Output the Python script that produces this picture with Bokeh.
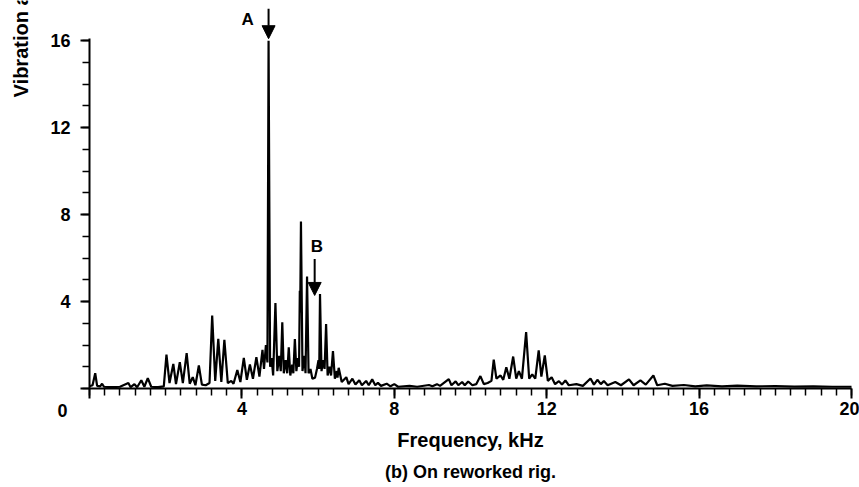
import math
from bokeh.plotting import figure
from bokeh.models import Range1d, Label, Arrow, NormalHead, FixedTicker
from bokeh.embed import file_html
from bokeh.resources import INLINE

# ---- data (frequency in kHz, vibration amplitude) ----
freq_khz = [
    0.00, 0.08, 0.15, 0.20, 0.28, 0.33, 0.38, 0.60, 0.80, 1.02, 1.08, 1.18, 1.25,
    1.36, 1.44, 1.53, 1.62, 1.80, 1.95, 2.02, 2.10, 2.20, 2.27, 2.37, 2.45, 2.55,
    2.63, 2.71, 2.78, 2.87, 2.95, 3.05, 3.15, 3.22, 3.30, 3.38, 3.46, 3.54, 3.63,
    3.72, 3.78, 3.88, 3.96, 4.05, 4.13, 4.21, 4.29, 4.38, 4.46, 4.54, 4.58, 4.63,
    4.67, 4.70, 4.74, 4.78, 4.82, 4.88, 4.93, 4.98, 5.02, 5.06, 5.10, 5.15, 5.19,
    5.23, 5.27, 5.32, 5.35, 5.39, 5.43, 5.47, 5.50, 5.52, 5.53, 5.55, 5.59, 5.64,
    5.67, 5.71, 5.75, 5.80, 5.85, 5.92, 5.97, 6.01, 6.03, 6.05, 6.09, 6.13, 6.17,
    6.21, 6.25, 6.30, 6.34, 6.39, 6.44, 6.49, 6.51, 6.54, 6.62, 6.74, 6.80, 6.90,
    6.98, 7.08, 7.15, 7.26, 7.33, 7.42, 7.50, 7.57, 7.65, 7.80, 7.90, 8.00, 8.10,
    8.40, 8.60, 8.91, 9.00, 9.12, 9.20, 9.43, 9.50, 9.61, 9.68, 9.78, 9.85, 9.94,
    10.05, 10.15, 10.26, 10.35, 10.45, 10.55, 10.61, 10.68, 10.79, 10.86, 10.94,
    11.02, 11.12, 11.20, 11.27, 11.35, 11.46, 11.54, 11.62, 11.70, 11.79, 11.86,
    11.95, 12.03, 12.13, 12.22, 12.32, 12.40, 12.49, 12.58, 12.78, 12.95, 13.15,
    13.24, 13.33, 13.42, 13.50, 13.60, 13.80, 13.95, 14.16, 14.28, 14.46, 14.60,
    14.80, 14.90, 15.10, 15.30, 15.60, 15.90, 16.20, 16.60, 17.00, 17.50, 18.00,
    18.50, 19.00, 19.50, 20.00,
]
amplitude = [
    0.10, 0.15, 0.70, 0.12, 0.10, 0.22, 0.08, 0.06, 0.08, 0.25, 0.06, 0.20, 0.06,
    0.38, 0.08, 0.48, 0.08, 0.06, 0.10, 1.56, 0.25, 1.13, 0.20, 1.21, 0.25, 1.63,
    0.22, 0.52, 0.15, 1.06, 0.18, 0.15, 0.25, 3.36, 0.35, 2.28, 0.30, 2.24, 0.25,
    0.35, 0.22, 0.85, 0.30, 1.41, 0.40, 1.10, 0.45, 1.44, 0.55, 1.78, 0.90, 2.00,
    1.20, 16.00, 1.00, 1.40, 0.60, 3.93, 0.80, 1.50, 0.80, 3.05, 0.70, 1.30, 0.70,
    1.90, 0.60, 1.10, 0.70, 2.28, 0.80, 1.40, 1.00, 4.50, 3.50, 7.68, 0.80, 1.50,
    0.70, 5.15, 0.70, 0.90, 0.45, 0.50, 0.90, 1.30, 0.90, 4.35, 0.80, 1.30, 0.90,
    2.97, 0.60, 1.00, 0.60, 1.72, 0.45, 0.80, 0.50, 0.95, 0.30, 0.52, 0.20, 0.45,
    0.18, 0.38, 0.15, 0.35, 0.15, 0.42, 0.15, 0.26, 0.12, 0.22, 0.10, 0.20, 0.08,
    0.12, 0.08, 0.16, 0.10, 0.20, 0.12, 0.43, 0.15, 0.33, 0.15, 0.30, 0.15, 0.32,
    0.15, 0.20, 0.57, 0.20, 0.25, 0.35, 1.33, 0.45, 0.60, 0.40, 0.98,
    0.45, 1.47, 0.45, 0.80, 0.45, 2.59, 0.45, 0.65, 0.45, 1.75, 0.55,
    1.52, 0.35, 0.52, 0.20, 0.34, 0.18, 0.37, 0.15, 0.20, 0.12, 0.46,
    0.18, 0.40, 0.20, 0.34, 0.15, 0.30, 0.15, 0.42, 0.15, 0.37, 0.18,
    0.60, 0.15, 0.22, 0.12, 0.16, 0.10, 0.14, 0.10, 0.13, 0.10, 0.11,
    0.09, 0.10, 0.08, 0.08,
]

x_major_ticks = [0, 4, 8, 12, 16, 20]
y_major_ticks = [0, 4, 8, 12, 16]

FONT = "Liberation Sans"
W, H = 859, 487
PX_X, PX_Y = 38.1, 21.74          # pixels per kHz / per amplitude unit
X0_PX, Y0_PX = 89, 388            # where the origin sits on the page

p = figure(width=W, height=H, output_backend="svg", toolbar_location=None,
           x_range=Range1d(-X0_PX / PX_X, (W - X0_PX) / PX_X),
           y_range=Range1d(-(H - Y0_PX) / PX_Y, Y0_PX / PX_Y),
           min_border=0)
p.title.visible = False
p.outline_line_color = None
p.xgrid.visible = False
p.ygrid.visible = False
p.background_fill_color = "white"
p.border_fill_color = "white"

p.line(freq_khz, amplitude, line_color="black", line_width=2.2)

# axes, drawn at the origin of the data
p.xaxis.fixed_location = 0
p.yaxis.fixed_location = 0
p.xaxis.bounds = (0, 20)
p.yaxis.bounds = (0, 16.1)
p.xaxis.ticker = FixedTicker(ticks=x_major_ticks,
                             minor_ticks=[round(0.4 * i, 2) for i in range(51)])
p.yaxis.ticker = FixedTicker(ticks=y_major_ticks, minor_ticks=list(range(17)))
for ax in (p.xaxis[0], p.yaxis[0]):
    ax.axis_line_color = "black"
    ax.axis_line_width = 2
    ax.major_tick_line_color = "black"
    ax.major_tick_line_width = 2
    ax.minor_tick_line_color = "black"
    ax.minor_tick_line_width = 1.5
    ax.major_tick_in = 0
    ax.minor_tick_in = 0
    ax.major_label_text_font = FONT
    ax.major_label_text_font_style = "bold"
    ax.major_label_text_font_size = "18px"
    ax.major_label_text_color = "black"
    ax.major_label_overrides = {0: ""}
p.xaxis.major_tick_out = 10
p.xaxis.minor_tick_out = 7
p.xaxis.major_label_standoff = 3
p.yaxis.major_tick_out = 9
p.yaxis.minor_tick_out = 7
p.yaxis.major_label_standoff = 10

def lab(x, y, t, size="17px", **kw):
    p.add_layout(Label(x=x, y=y, text=t, text_font=FONT, text_font_style="bold",
                       text_font_size=size, text_color="black",
                       text_align=kw.pop("align", "center"),
                       text_baseline=kw.pop("baseline", "middle"), **kw))

lab(-0.71, -1.0, "0", size="18px")
lab(10.0, -2.39, "Frequency, kHz", size="20px")
lab(10.0, -3.86, "(b) On reworked rig.", size="18px")
lab(-1.81, 13.39, "Vibration amplitude", size="20px", align="left", angle=math.pi / 2)
lab(4.15, 16.97, "A", size="17px")
lab(5.97, 6.55, "B", size="17px")

for xs, ys, ye in [(4.70, 17.47, 16.09), (5.91, 5.96, 4.28)]:
    p.add_layout(Arrow(end=NormalHead(size=13, fill_color="black", line_color="black"),
                       x_start=xs, y_start=ys, x_end=xs, y_end=ye,
                       line_color="black", line_width=2))

open("out.html", "w").write(file_html(p, INLINE))
